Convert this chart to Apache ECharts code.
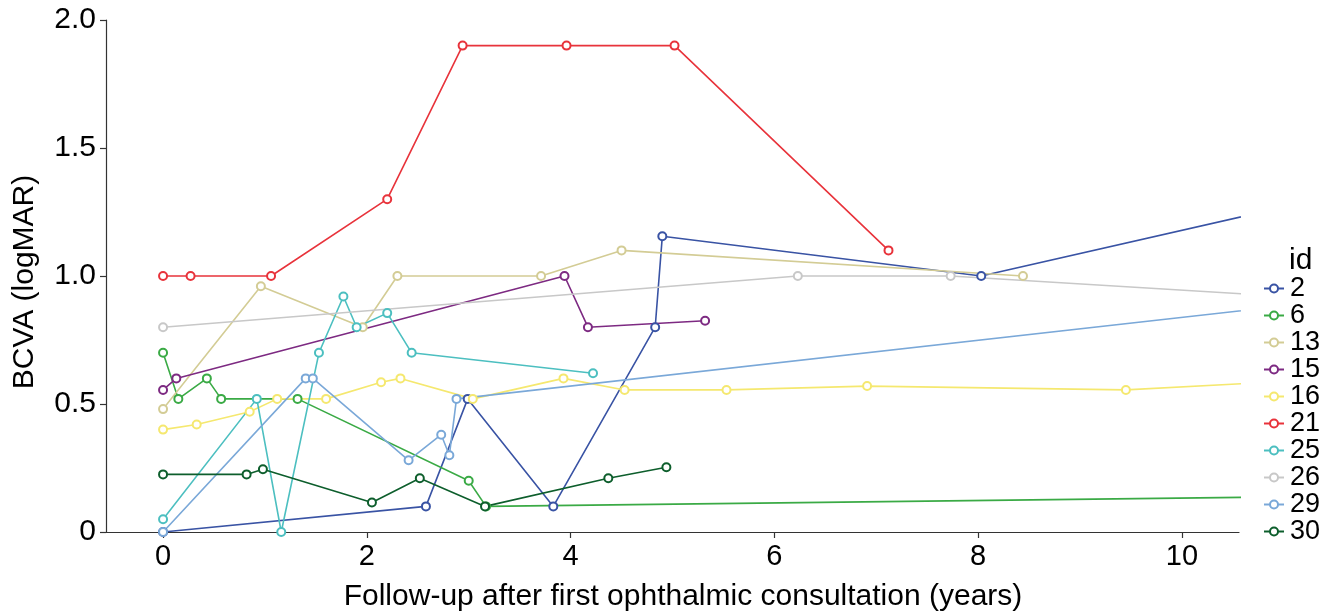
<!DOCTYPE html>
<html>
<head>
<meta charset="utf-8">
<script src="https://cdn.jsdelivr.net/npm/echarts@6/dist/echarts.min.js"></script>
<style>html,body{margin:0;padding:0;background:#fff;overflow:hidden;}#c{width:1332px;height:613px;}</style>
</head>
<body>
<div id="c"></div>
<script>
const ids = ['2','6','13','15','16','21','25','26','29','30'];
const colors = ['#3953a4','#3aaa45','#d3cc95','#7d2a82','#f5e86f','#e8333b','#4cbfc0','#c8c8c8','#7aa8d8','#0d5e2c'];
const xTicks = [0,2,4,6,8,10];
const yTicks = [0,0.5,1.0,1.5,2.0];
const xTitle = 'Follow-up after first ophthalmic consultation (years)';
const yTitle = 'BCVA (logMAR)';
const legendTitle = 'id';

const x2  = [0, 2.58, 2.99, 3.83, 4.83, 4.90, 8.03, 12.0];
const y2  = [0, 0.10, 0.52, 0.10, 0.80, 1.155, 1.00, 1.36];
const x6  = [0, 0.15, 0.43, 0.57, 1.32, 3.00, 3.17, 12.0];
const y6  = [0.70, 0.52, 0.60, 0.52, 0.52, 0.20, 0.10, 0.142];
const x13 = [0, 0.96, 1.96, 2.30, 3.71, 4.50, 8.44];
const y13 = [0.48, 0.96, 0.80, 1.00, 1.00, 1.10, 1.00];
const x15 = [0, 0.13, 3.94, 4.17, 5.32];
const y15 = [0.555, 0.60, 1.00, 0.80, 0.825];
const x16 = [0, 0.33, 0.85, 1.12, 1.60, 2.14, 2.33, 3.04, 3.93, 4.53, 5.53, 6.91, 9.45, 12.0];
const y16 = [0.40, 0.42, 0.47, 0.52, 0.52, 0.585, 0.60, 0.52, 0.60, 0.555, 0.555, 0.57, 0.555, 0.61];
const x21 = [0, 0.27, 1.06, 2.20, 2.94, 3.96, 5.02, 7.12];
const y21 = [1.00, 1.00, 1.00, 1.30, 1.90, 1.90, 1.90, 1.10];
const x25 = [0, 0.92, 1.16, 1.53, 1.77, 1.90, 2.20, 2.44, 4.22];
const y25 = [0.05, 0.52, 0, 0.70, 0.92, 0.80, 0.855, 0.70, 0.62];
const x26 = [0, 6.23, 7.73, 12.0];
const y26 = [0.80, 1.00, 1.00, 0.896];
const x29 = [0, 1.40, 1.47, 2.41, 2.73, 2.81, 2.88, 12.0];
const y29 = [0, 0.60, 0.60, 0.28, 0.38, 0.30, 0.52, 0.928];
const x30 = [0, 0.82, 0.98, 2.05, 2.52, 3.16, 4.37, 4.94];
const y30 = [0.225, 0.225, 0.245, 0.115, 0.21, 0.10, 0.21, 0.253];

const xs = [x2,x6,x13,x15,x16,x21,x25,x26,x29,x30];
const ys = [y2,y6,y13,y15,y16,y21,y25,y26,y29,y30];

const FONT = 'Liberation Sans, Arial, Helvetica, sans-serif';
const chart = echarts.init(document.getElementById('c'), null, {renderer:'canvas'});
const series = ids.map((id,i)=>({
  name: id,
  type: 'line',
  data: xs[i].map((x,j)=>[x, ys[i][j]]),
  symbol: 'emptyCircle',
  symbolSize: 8,
  showAllSymbol: true,
  clip: true,
  color: colors[i],
  lineStyle: {width: 1.6, color: colors[i]},
  itemStyle: {color: colors[i], borderColor: colors[i], borderWidth: 1.6},
  emphasis: {disabled: true},
  animation: false
}));

chart.setOption({
  animation: false,
  backgroundColor: '#fff',
  grid: {left: 106, right: 93, top: 20, bottom: 81, containLabel: false},
  xAxis: {
    type: 'value', min: -0.56, max: 10.56,
    axisLine: {show: true, onZero: false, lineStyle: {color: '#333', width: 1.2}},
    axisTick: {show: true, length: 6, lineStyle: {color: '#333', width: 1.2}, customValues: xTicks},
    axisLabel: {fontFamily: FONT, fontSize: 29, color: '#000', margin: 10, customValues: xTicks},
    splitLine: {show: false}
  },
  yAxis: {
    type: 'value', min: 0, max: 2, interval: 0.5,
    axisLine: {show: true, onZero: false, lineStyle: {color: '#333', width: 1.2}},
    axisTick: {show: true, length: 6, lineStyle: {color: '#333', width: 1.2}},
    axisLabel: {fontFamily: FONT, fontSize: 30, color: '#000', margin: 10,
      formatter: v => v === 0 ? '0' : v.toFixed(1)},
    splitLine: {show: false}
  },
  legend: {
    orient: 'vertical', left: 1263, top: 275, padding: 0,
    itemWidth: 20, itemHeight: 10, itemGap: 0,
    textStyle: {fontFamily: FONT, fontSize: 27, color: '#000', lineHeight: 26.6, padding: [0,0,0,1]},
    data: ids
  },
  graphic: [
    {type: 'text', x: 1289, y: 261,
     style: {text: legendTitle, font: '30px ' + FONT, fill: '#000', align: 'left', verticalAlign: 'middle'}},
    {type: 'text', x: 683, y: 597,
     style: {text: xTitle, font: '30px ' + FONT, fill: '#000', align: 'center', verticalAlign: 'middle'}},
    {type: 'text', x: 25, y: 282, rotation: Math.PI / 2,
     style: {text: yTitle, font: '30px ' + FONT, fill: '#000', align: 'center', verticalAlign: 'middle'}}
  ],
  series: series
});
</script>
</body>
</html>
